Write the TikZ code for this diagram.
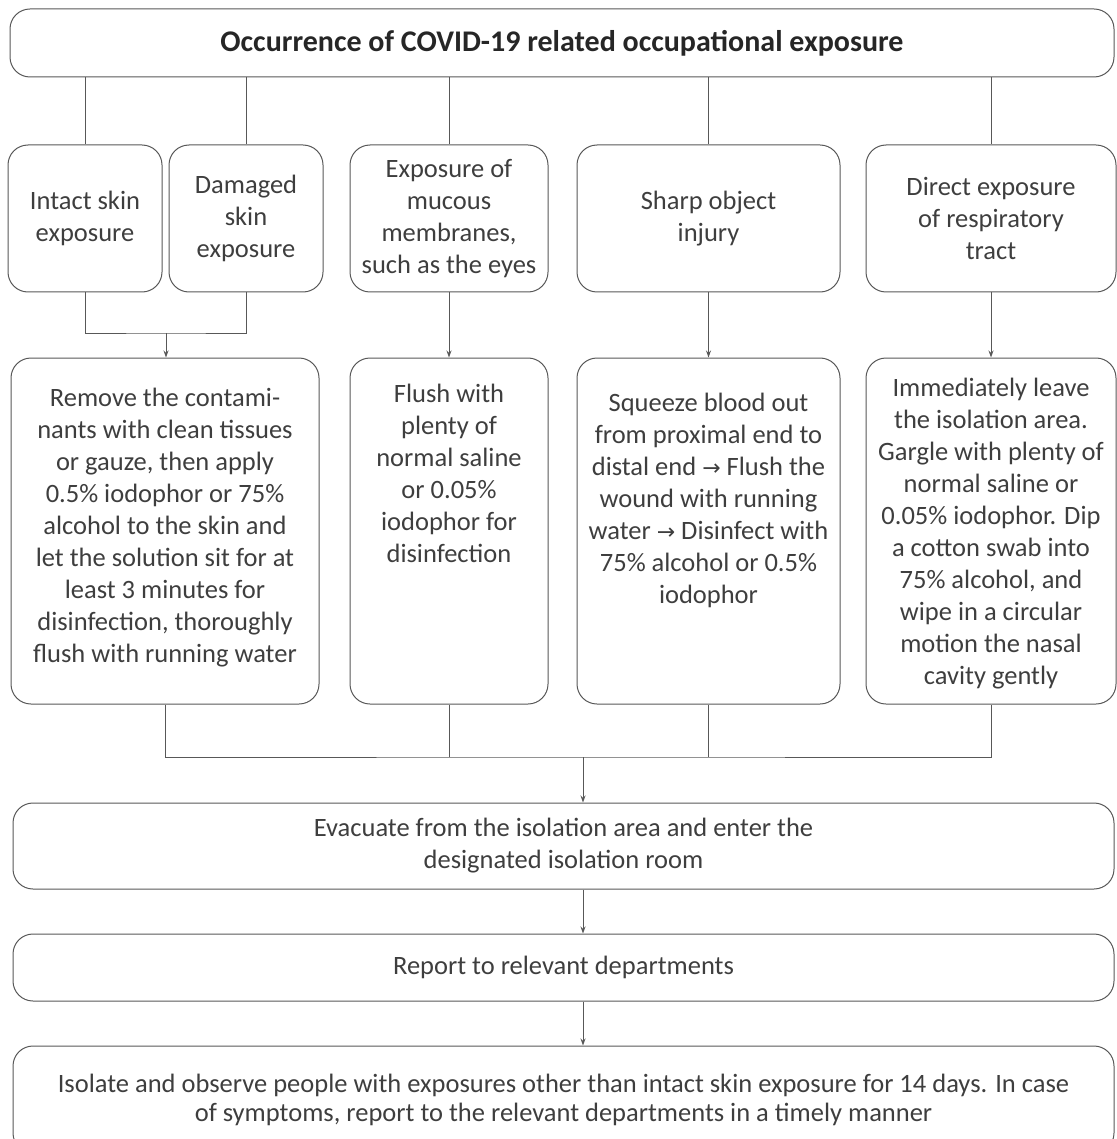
\documentclass[tikz,border=0pt]{standalone}
\usepackage{fontspec}
\setmainfont{Carlito}
\newfontfamily\arrowfont{DejaVu Sans}
\usetikzlibrary{arrows.meta,positioning}
\definecolor{ink}{RGB}{62,62,62}
\definecolor{rule}{RGB}{88,88,88}
\newcommand{\topbox}[3]{\parbox[c][346pt][t]{#1}{\centering\vspace*{#2}\strut #3}}
\newcommand{\rarr}{{\arrowfont\fontsize{22}{22}\selectfont →}}

\begin{document}
\begin{tikzpicture}[x=1pt,y=-1pt,
  node distance=65pt,
  box/.style={draw=rule,line width=1pt,rounded corners=20pt,align=center,text=ink,font=\fontsize{26.5}{32}\selectfont,inner sep=0pt},
  head/.style={box,text=black!85,font=\fontsize{30}{32}\selectfont\bfseries,minimum width=1104pt,minimum height=68pt},
  kind/.style={box,minimum height=147pt},
  wide/.style={box,minimum width=1101pt},
  ln/.style={draw=rule,line width=1pt},
  ar/.style={ln,-{Stealth[length=7pt,width=5pt]}}
]
\useasboundingbox (0,0) rectangle (1116,1139);
\node[head] (title) at (562,43) {Occurrence of COVID-19 related occupational exposure};
\node[kind,minimum width=154pt,below=67pt of title,xshift=-477pt] (intact) {Intact skin\\exposure};
\node[kind,minimum width=154pt,below=67pt of title,xshift=-316pt] (damaged) {Damaged\\skin\\exposure};
\node[kind,minimum width=198pt,below=67pt of title,xshift=-113pt] (mucous) {Exposure of\\mucous\\membranes,\\such as the eyes};
\node[kind,minimum width=263pt,below=67pt of title,xshift=146.5pt] (sharp) {Sharp object\\injury};
\node[kind,minimum width=250pt,below=67pt of title,xshift=429pt] (direct) {Direct exposure\\of respiratory\\tract};
\node[box,below=of intact,xshift=80pt] (remove) {\topbox{308pt}{26pt}{Remove the contami-\\nants with clean tissues\\or gauze, then apply\\0.5\% iodophor or 75\%\\alcohol to the skin and\\let the solution sit for at\\least 3 minutes for\\disinfection, thoroughly\\flush with running water}};
\node[box,below=of mucous] (flush) {\topbox{198pt}{22pt}{Flush with\\plenty of\\normal saline\\or 0.05\%\\iodophor for\\disinfection}};
\node[box,below=of sharp] (squeeze) {\topbox{263pt}{31pt}{Squeeze blood out\\from proximal end to\\distal end \rarr\ Flush the\\wound with running\\water \rarr\ Disinfect with\\75\% alcohol or 0.5\%\\iodophor}};
\node[box,below=of direct] (immed) {\topbox{250pt}{16pt}{Immediately leave\\the isolation area.\\Gargle with plenty of\\normal saline or\\0.05\% iodophor. Dip\\a cotton swab into\\75\% alcohol, and\\wipe in a circular\\motion the nasal\\cavity gently}};
\node[wide,minimum height=86pt] (evac) at (563.5,846) {Evacuate from the isolation area and enter the\\designated isolation room};
\node[wide,minimum height=67pt,below=44pt of evac] (report) {Report to relevant departments};
\node[wide,minimum height=107pt,below=44pt of report,font=\fontsize{26.5}{29}\selectfont] (isolate) {Isolate and observe people with exposures other than intact skin exposure for 14 days. In case\\of symptoms, report to the relevant departments in a timely manner};
\coordinate (skin) at (166,333);
\coordinate (merge) at (583,757);
\foreach \n in {intact,damaged,mucous,sharp,direct}
  \draw[ln] (\n.north |- title.south) -- (\n.north);
\draw[ln] (intact.south) |- (skin) -| (damaged.south);
\draw[ar] (skin) -- (skin |- remove.north);
\draw[ar] (mucous.south) -- (flush.north);
\draw[ar] (sharp.south) -- (squeeze.north);
\draw[ar] (direct.south) -- (immed.north);
\draw[ln] (remove.south) |- (merge) -| (immed.south);
\draw[ln] (flush.south) -- (flush.south |- merge);
\draw[ln] (squeeze.south) -- (squeeze.south |- merge);
\draw[ar] (merge) -- (merge |- evac.north);
\draw[ar] (merge |- evac.south) -- (merge |- report.north);
\draw[ar] (merge |- report.south) -- (merge |- isolate.north);
\end{tikzpicture}
\end{document}
